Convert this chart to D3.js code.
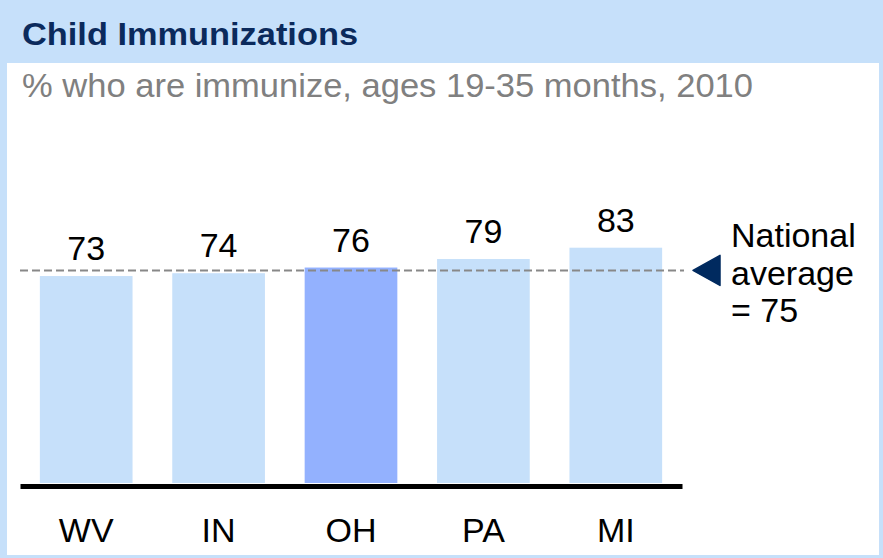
<!DOCTYPE html>
<html>
<head>
<meta charset="utf-8">
<script src="https://cdn.jsdelivr.net/npm/d3@7"></script>
<style>
    body { margin: 0; background: #ffffff; }
    text { font-family: "Liberation Sans", Arial, sans-serif; }
</style>
</head>
<body>
<div id="chart"></div>
<script>
// Chart data
var states = ["WV", "IN", "OH", "PA", "MI"];
var rates = [73, 74, 76, 79, 83];
var highlight = "OH";
var nationalAverage = 75;
var averageLines = ["National", "average", "= 75"];

// SVG size
var svgWidth = 883;
var svgHeight = 558;

var svg = d3.select("#chart")
    .append("svg")
    .attr("width", svgWidth)
    .attr("height", svgHeight);

// light blue frame and header band
svg.append("rect")
    .attr("width", svgWidth)
    .attr("height", svgHeight)
    .attr("fill", "#c6e0fa");

svg.append("rect")
    .attr("x", 7)
    .attr("y", 63)
    .attr("width", 872)
    .attr("height", 492)
    .attr("fill", "#ffffff");

svg.append("text")
    .attr("x", 22)
    .attr("y", 45)
    .attr("font-size", "31px")
    .attr("font-weight", "bold")
    .attr("fill", "#0b2a5c")
    .attr("textLength", 336)
    .attr("lengthAdjust", "spacingAndGlyphs")
    .text("Child Immunizations");

svg.append("text")
    .attr("x", 22)
    .attr("y", 97)
    .attr("font-size", "33px")
    .attr("fill", "#808080")
    .attr("textLength", 731)
    .attr("lengthAdjust", "spacingAndGlyphs")
    .text("% who are immunize, ages 19-35 months, 2010");

// scales
var baseline = 483;
var xScale = d3.scaleBand()
    .domain(states)
    .range([20, 682])
    .paddingInner(0.3)
    .paddingOuter(0.15);

var yScale = d3.scaleLinear()
    .domain([0, 100])
    .range([baseline, baseline - 283.5]);

// bars
svg.selectAll(".bar")
    .data(states)
    .enter()
    .append("rect")
    .attr("class", "bar")
    .attr("x", d => xScale(d))
    .attr("y", (d, i) => yScale(rates[i]))
    .attr("width", xScale.bandwidth())
    .attr("height", (d, i) => baseline - yScale(rates[i]))
    .attr("fill", d => d === highlight ? "#93b1fe" : "#c6e0fa");

// value labels
svg.selectAll(".value")
    .data(states)
    .enter()
    .append("text")
    .attr("class", "value")
    .attr("x", d => xScale(d) + xScale.bandwidth() / 2)
    .attr("y", (d, i) => yScale(rates[i]) - 16)
    .attr("text-anchor", "middle")
    .attr("font-size", "34px")
    .attr("fill", "#000000")
    .text((d, i) => rates[i]);

// x axis line and category labels
var xAxis = svg.append("g")
    .attr("transform", `translate(0, ${baseline + 3})`)
    .call(d3.axisBottom(xScale).tickSize(0).tickPadding(32));

xAxis.select(".domain")
    .attr("stroke", "#000000")
    .attr("stroke-width", 5);

xAxis.selectAll("text")
    .attr("font-family", "Liberation Sans, Arial, sans-serif")
    .attr("font-size", "34px")
    .attr("fill", "#000000")
    .attr("dy", "0.71em");

// national average dashed line
svg.append("line")
    .attr("x1", 20)
    .attr("x2", 684)
    .attr("y1", yScale(nationalAverage))
    .attr("y2", yScale(nationalAverage))
    .attr("stroke", "#888888")
    .attr("stroke-width", 2)
    .attr("stroke-dasharray", "8,4");

// marker triangle
var ay = yScale(nationalAverage);
svg.append("path")
    .attr("d", `M693,${ay} L720,${ay - 15} L720,${ay + 15} Z`)
    .attr("fill", "#002a5f")
    .attr("stroke", "#002a5f")
    .attr("stroke-linejoin", "round")
    .attr("stroke-width", 1.5);

svg.append("text")
    .attr("x", 731)
    .attr("y", 247)
    .attr("font-size", "34px")
    .attr("fill", "#000000")
    .selectAll("tspan")
    .data(averageLines)
    .enter()
    .append("tspan")
    .attr("x", 731)
    .attr("dy", (d, i) => i === 0 ? 0 : 37.5)
    .text(d => d);
</script>
</body>
</html>
